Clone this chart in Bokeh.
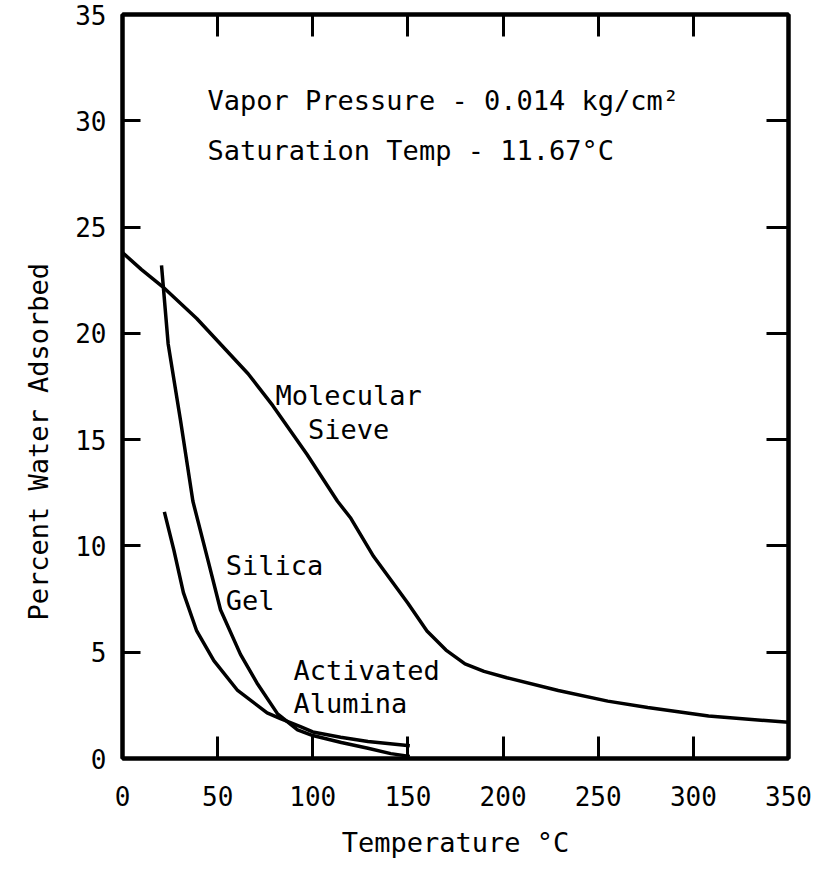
import numpy as np
from bokeh.plotting import figure
from bokeh.models import Range1d, LinearAxis, FixedTicker, Label, Title
from bokeh.embed import file_html
from bokeh.resources import INLINE

FONT = "DejaVu Sans Mono"

# ---- data ----
x_ticks = [0, 50, 100, 150, 200, 250, 300, 350]
y_ticks = [0, 5, 10, 15, 20, 25, 30, 35]

sieve_temp = [0, 10, 21, 39, 66, 79, 97, 113, 120, 132, 150, 160, 170, 180, 190, 202, 229, 255, 276, 308, 350]
sieve_pct = [23.8, 23.0, 22.2, 20.7, 18.1, 16.6, 14.3, 12.1, 11.3, 9.5, 7.3, 6.0, 5.1, 4.45, 4.1, 3.8, 3.2, 2.7, 2.4, 2.0, 1.7]

silica_temp = [20.5, 24, 30.5, 37, 45, 51.5, 62, 71, 81.5, 92, 100, 115, 129, 141, 151]
silica_pct = [23.2, 19.5, 15.9, 12.1, 9.3, 7.0, 4.9, 3.5, 2.1, 1.35, 1.08, 0.75, 0.48, 0.23, 0.1]

alumina_temp = [22, 27, 32, 39, 48, 60.5, 76, 83, 93.5, 100, 114.6, 129, 151]
alumina_pct = [11.6, 9.8, 7.8, 6.0, 4.6, 3.2, 2.15, 1.88, 1.5, 1.25, 1.0, 0.8, 0.6]

p = figure(width=821, height=869,
           x_range=Range1d(0, 350), y_range=Range1d(0, 35),
           output_backend="svg", toolbar_location=None,
           min_border_left=122, min_border_right=33,
           min_border_top=14, min_border_bottom=111)

p.grid.visible = False
p.background_fill_color = "white"
p.border_fill_color = "white"
p.outline_line_color = "black"
p.outline_line_width = 4

def style_axis(ax, tick_len, labels=True):
    ax.axis_line_width = 4
    ax.axis_line_color = "black"
    ax.major_tick_in = tick_len
    ax.major_tick_out = 0
    ax.major_tick_line_width = 3
    ax.major_tick_line_color = "black"
    ax.minor_tick_line_color = None
    if labels:
        ax.major_label_text_font = FONT
        ax.major_label_text_font_size = "26px"
        ax.major_label_text_color = "black"
    else:
        ax.major_label_text_font_size = "0px"
        ax.major_label_standoff = 0

# bottom axis
xa = p.xaxis[0]
xa.ticker = FixedTicker(ticks=x_ticks)
style_axis(xa, 22)
xa.major_label_standoff = 27
xa.axis_label = "Temperature °C"
xa.axis_label_text_font = FONT
xa.axis_label_text_font_size = "27px"
xa.axis_label_text_font_style = "normal"
xa.axis_label_text_color = "black"
xa.axis_label_standoff = 18

# left axis
ya = p.yaxis[0]
ya.ticker = FixedTicker(ticks=y_ticks)
style_axis(ya, 18)
ya.major_label_standoff = 16

# y-axis title, placed like the reference (below the frame centre)
p.add_layout(Title(text="Percent Water Adsorbed", align="left", offset=138, standoff=37,
                   text_font=FONT, text_font_size="27px", text_font_style="normal",
                   text_color="black"), "left")

# right and top axes (ticks only)
ra = LinearAxis(ticker=FixedTicker(ticks=y_ticks[1:-1]))
style_axis(ra, 22, labels=False)
ra.major_label_overrides = {t: "" for t in y_ticks}
p.add_layout(ra, "right")

ta = LinearAxis(ticker=FixedTicker(ticks=x_ticks[1:-1]))
style_axis(ta, 22, labels=False)
ta.major_label_overrides = {t: "" for t in x_ticks}
p.add_layout(ta, "above")

# curves
p.line(sieve_temp, sieve_pct, line_color="black", line_width=3.5)
p.line(silica_temp, silica_pct, line_color="black", line_width=3.5)
p.line(alumina_temp, alumina_pct, line_color="black", line_width=3.5)

def lab(x, y, text, align="left"):
    p.add_layout(Label(x=x, y=y, text=text, text_font=FONT, text_font_size="27px",
                       text_color="black", text_align=align, text_baseline="middle"))

lab(44.7, 30.95, "Vapor Pressure - 0.014 kg/cm²")
lab(44.7, 28.6, "Saturation Temp - 11.67°C")
lab(118.8, 17.07, "Molecular", "center")
lab(118.8, 15.5, "Sieve", "center")
lab(54.2, 9.08, "Silica")
lab(54.2, 7.43, "Gel")
lab(89.9, 4.14, "Activated")
lab(89.9, 2.59, "Alumina")

open("out.html", "w").write(file_html(p, INLINE))
